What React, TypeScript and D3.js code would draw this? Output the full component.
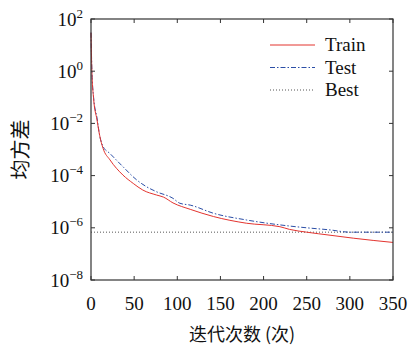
import React, { useEffect, useRef } from 'react';
import * as d3 from 'd3';

// iterations and mean squared error
const trainIters = [0, 1, 3, 7, 10, 14, 22, 37, 49, 60, 76, 84, 95, 115, 142, 180, 219, 230, 250, 277, 304, 350];
const trainMse = [30, 1, 0.09, 0.0135, 3.5e-3, 1.1e-3, 4e-4, 1.05e-4, 5e-5, 2.8e-5, 1.8e-5, 1.5e-5, 9e-6, 5.1e-6, 2.7e-6, 1.5e-6, 1.1e-6, 8.7e-7, 6.8e-7, 5.2e-7, 4e-7, 2.75e-7];

const testIters = [0, 1, 3, 7, 10, 14, 22, 37, 53, 64, 76, 95, 103, 115, 142, 180, 230, 250, 277, 300, 350];
const testMse = [30, 1.2, 0.1, 0.016, 3.5e-3, 1.3e-3, 7e-4, 2.2e-4, 6.8e-5, 3.8e-5, 2.4e-5, 1.35e-5, 8.7e-6, 7.4e-6, 3.6e-6, 2e-6, 1.17e-6, 1e-6, 8.3e-7, 6.8e-7, 6.8e-7];

const bestMse = 6.8e-7;

const xTicks = [0, 50, 100, 150, 200, 250, 300, 350];
const yExps = [2, 0, -2, -4, -6, -8];

const legendNames = ['Train', 'Test', 'Best'];

const App = () => {
  const ref = useRef<SVGSVGElement | null>(null);

  useEffect(() => {
    if (!ref.current) return;
    const svg = d3.select(ref.current);
    svg.selectAll('*').remove();

    const left = 91, right = 393, top = 19, bottom = 280;
    const font = '"Liberation Serif", "DejaVu Serif", serif';
    const cjk = '"Noto Sans CJK SC", sans-serif';
    const frame = '#333';
    const red = '#e3342f';
    const blue = '#2b4ea6';

    const x = d3.scaleLinear().domain([0, 350]).range([left, right]);
    const y = d3.scaleLog().domain([1e-8, 1e2]).range([bottom, top]);

    const g = svg.append('g');

    // curves
    const line = d3.line<[number, number]>()
      .x(d => x(d[0]))
      .y(d => y(d[1]))
      .curve(d3.curveMonotoneX);

    g.append('line')
      .attr('x1', x(0)).attr('x2', x(350))
      .attr('y1', y(bestMse)).attr('y2', y(bestMse))
      .attr('stroke', '#555')
      .attr('stroke-width', 1)
      .attr('stroke-dasharray', '1,2');

    g.append('path')
      .datum(testIters.map((t, i) => [t, testMse[i]] as [number, number]))
      .attr('d', line)
      .attr('fill', 'none')
      .attr('stroke', blue)
      .attr('stroke-width', 1)
      .attr('stroke-dasharray', '5,2,1.5,2');

    g.append('path')
      .datum(trainIters.map((t, i) => [t, trainMse[i]] as [number, number]))
      .attr('d', line)
      .attr('fill', 'none')
      .attr('stroke', red)
      .attr('stroke-width', 1);

    // frame
    g.append('rect')
      .attr('x', left).attr('y', top)
      .attr('width', right - left).attr('height', bottom - top)
      .attr('fill', 'none')
      .attr('stroke', frame)
      .attr('stroke-width', 1.2);

    const tl = 4;
    xTicks.forEach(t => {
      g.append('line').attr('x1', x(t)).attr('x2', x(t)).attr('y1', bottom).attr('y2', bottom - tl).attr('stroke', frame);
      g.append('line').attr('x1', x(t)).attr('x2', x(t)).attr('y1', top).attr('y2', top + tl).attr('stroke', frame);
      g.append('text')
        .attr('x', x(t)).attr('y', 310)
        .attr('text-anchor', 'middle')
        .attr('font-family', font)
        .attr('font-size', 19)
        .attr('fill', '#111')
        .text(t);
    });

    yExps.forEach(e => {
      const yy = y(Math.pow(10, e));
      g.append('line').attr('x1', left).attr('x2', left + tl).attr('y1', yy).attr('y2', yy).attr('stroke', frame);
      g.append('line').attr('x1', right).attr('x2', right - tl).attr('y1', yy).attr('y2', yy).attr('stroke', frame);
      const txt = g.append('text')
        .attr('x', 83).attr('y', yy + 6.5)
        .attr('text-anchor', 'end')
        .attr('font-family', font)
        .attr('fill', '#111');
      txt.append('tspan').attr('font-size', 19).text('10');
      txt.append('tspan').attr('font-size', 13).attr('dy', -8).text(e < 0 ? `\u2212${-e}` : `${e}`);
    });

    // axis titles
    g.append('text')
      .attr('x', (left + right) / 2).attr('y', 341)
      .attr('text-anchor', 'middle')
      .attr('font-family', cjk)
      .attr('font-size', 18)
      .attr('fill', '#111')
      .text('迭代次数 (次)');

    g.append('text')
      .attr('transform', `translate(28, ${(top + bottom) / 2}) rotate(-90)`)
      .attr('text-anchor', 'middle')
      .attr('font-family', cjk)
      .attr('font-size', 20)
      .attr('fill', '#111')
      .text('均方差');

    // legend
    const legendStyle = [
      { stroke: red, dash: null },
      { stroke: blue, dash: '5,2,1.5,2' },
      { stroke: '#555', dash: '1,2' },
    ];
    legendNames.forEach((name, i) => {
      const ly = 45 + i * 22.5;
      const s = legendStyle[i];
      const l = g.append('line')
        .attr('x1', 270).attr('x2', 315)
        .attr('y1', ly).attr('y2', ly)
        .attr('stroke', s.stroke)
        .attr('stroke-width', 1);
      if (s.dash) l.attr('stroke-dasharray', s.dash);
      g.append('text')
        .attr('x', 325).attr('y', ly + 6)
        .attr('font-family', font)
        .attr('font-size', 19)
        .attr('fill', '#111')
        .text(name);
    });
  }, []);

  return (
    <svg
      ref={ref}
      width={410}
      height={349}
      style={{ position: 'absolute', left: 0, top: 0, background: '#fff' }}
    />
  );
};

export default App;
